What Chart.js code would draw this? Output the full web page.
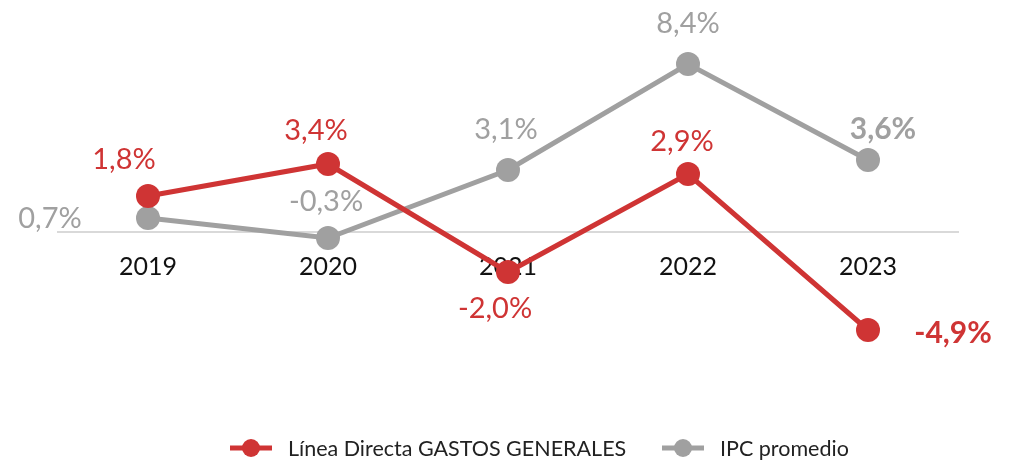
<!DOCTYPE html>
<html>
<head>
<meta charset="utf-8">
<script src="https://cdn.jsdelivr.net/npm/chart.js@4"></script>
<style>
  html, body { margin: 0; padding: 0; background: #fff; }
  #wrap { width: 1010px; height: 462px; position: relative; }
</style>
</head>
<body>
<div id="wrap"><canvas id="grafico"></canvas></div>
<script>
// datos
const years = ["2019", "2020", "2021", "2022", "2023"];
const gastosGenerales = [1.8, 3.4, -2.0, 2.9, -4.9];
const ipcPromedio = [0.7, -0.3, 3.1, 8.4, 3.6];
const seriesNames = ["Línea Directa GASTOS GENERALES", "IPC promedio"];

const RED = "#cf3434";
const GREY = "#a0a0a0";
const FONT = "Lato, 'Noto Sans', sans-serif";

// posición de las etiquetas respecto al punto (dx, dy, negrita)
const labelPos = [
    [[-24, -36, false], [-12, -33, false], [-13, 37, false], [-6, -32, false], [85, 3, true]],
    [[-98, 1, false], [-2, -36, false], [-2, -40, false], [0, -40, false], [15, -31, true]]
];

const fmt = v => v.toFixed(1).replace(".", ",") + "%";

// etiquetas de valores y leyenda
const labelsPlugin = {
    id: "etiquetas",
    afterDatasetsDraw(chart) {
        const ctx = chart.ctx;
        ctx.save();
        ctx.textAlign = "center";
        ctx.textBaseline = "middle";
        chart.data.datasets.forEach((ds, i) => {
            const meta = chart.getDatasetMeta(i);
            meta.data.forEach((pt, j) => {
                const p = labelPos[i][j];
                ctx.font = (p[2] ? "bold 30px " : "29px ") + FONT;
                ctx.fillStyle = ds.borderColor;
                ctx.fillText(fmt(ds.data[j]), pt.x + p[0], pt.y + p[1]);
            });
        });

        // leyenda
        const legendY = 448;
        const startX = [230, 662];
        ctx.textAlign = "left";
        ctx.font = "21.5px " + FONT;
        chart.data.datasets.forEach((ds, i) => {
            const x = startX[i];
            ctx.strokeStyle = ds.borderColor;
            ctx.lineWidth = 5;
            ctx.beginPath();
            ctx.moveTo(x, legendY);
            ctx.lineTo(x + 42, legendY);
            ctx.stroke();
            ctx.fillStyle = ds.borderColor;
            ctx.beginPath();
            ctx.arc(x + 21, legendY, 9, 0, Math.PI * 2);
            ctx.fill();
            ctx.fillStyle = "#222";
            ctx.fillText(ds.label, x + 58, legendY + 1);
        });
        ctx.restore();
    }
};

const config = {
    type: "line",
    data: {
        labels: years,
        datasets: [{
            label: seriesNames[0],
            data: gastosGenerales,
            borderColor: RED,
            backgroundColor: RED,
            borderWidth: 5,
            pointRadius: 12,
            pointHoverRadius: 12,
            pointBackgroundColor: RED,
            pointBorderWidth: 0,
            tension: 0
        }, {
            label: seriesNames[1],
            data: ipcPromedio,
            borderColor: GREY,
            backgroundColor: GREY,
            borderWidth: 5,
            pointRadius: 12,
            pointHoverRadius: 12,
            pointBackgroundColor: GREY,
            pointBorderWidth: 0,
            tension: 0
        }]
    },
    options: {
        responsive: true,
        maintainAspectRatio: false,
        animation: false,
        layout: {
            padding: { top: 32, left: 58, right: 52, bottom: 70 }
        },
        plugins: {
            legend: { display: false },
            tooltip: { enabled: false }
        },
        scales: {
            x: {
                position: { y: 0 },
                offset: true,
                grid: { display: false },
                border: { display: true, color: "#d9d9d9", width: 2 },
                ticks: {
                    color: "#111",
                    padding: 12,
                    font: { family: FONT, size: 25 }
                }
            },
            y: {
                display: false,
                min: -8,
                max: 10
            }
        }
    },
    plugins: [labelsPlugin]
};

new Chart(document.getElementById("grafico").getContext("2d"), config);
</script>
</body>
</html>
